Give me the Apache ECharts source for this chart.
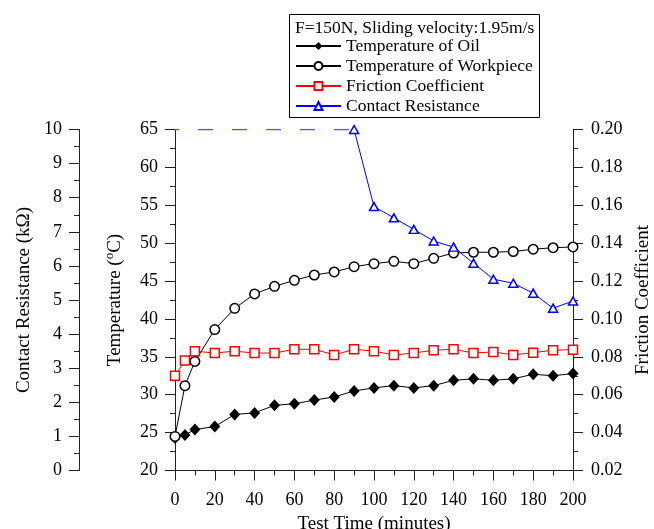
<!DOCTYPE html>
<html>
<head>
<meta charset="utf-8">
<script src="https://cdn.jsdelivr.net/npm/echarts@6/dist/echarts.min.js"></script>
<style>
  html, body { margin: 0; padding: 0; background: #fff; }
  #chart { width: 654px; height: 529px; }
</style>
</head>
<body>
<div id="chart"></div>
<script>
// test time (minutes)
const testTime = [0, 5, 10, 20, 30, 40, 50, 60, 70, 80, 90, 100, 110, 120, 130, 140, 150, 160, 170, 180, 190, 200];
const oilTemp = [24.3, 24.7, 25.4, 25.8, 27.4, 27.6, 28.6, 28.8, 29.3, 29.7, 30.5, 30.9, 31.2, 30.9, 31.2, 31.9, 32.1, 31.9, 32.1, 32.7, 32.5, 32.8];
const workTemp = [24.5, 31.2, 34.4, 38.6, 41.4, 43.3, 44.3, 45.1, 45.8, 46.2, 46.9, 47.3, 47.6, 47.3, 48.0, 48.7, 48.8, 48.8, 48.9, 49.2, 49.4, 49.5];
const friction = [0.070, 0.078, 0.083, 0.082, 0.083, 0.082, 0.082, 0.084, 0.084, 0.081, 0.084, 0.083, 0.081, 0.082, 0.0835, 0.084, 0.082, 0.0826, 0.081, 0.0822, 0.0835, 0.0838];
const crTime = [90, 100, 110, 120, 130, 140, 150, 160, 170, 180, 190, 200];
const contactRes = [10, 7.74, 7.41, 7.07, 6.73, 6.55, 6.08, 5.61, 5.49, 5.20, 4.76, 4.97];
// off-scale part of contact resistance (dashed at top)
const crOffTime = [0, 90];
const crOffVal = [10, 10];

const FONT = "'Liberation Serif', 'Times New Roman', serif";
const axisColor = '#222';

const pairs = (xs, ys) => xs.map((x, i) => [x, ys[i]]);

const chart = echarts.init(document.getElementById('chart'));

const baseY = {
    type: 'value',
    nameLocation: 'middle',
    nameRotate: 90,
    nameTextStyle: { fontFamily: FONT, fontSize: 19, color: '#000' },
    axisLine: { show: true, lineStyle: { color: axisColor, width: 1 } },
    axisTick: { show: true, length: 10, lineStyle: { color: axisColor } },
    minorTick: { show: true, splitNumber: 2, length: 5, lineStyle: { color: axisColor } },
    splitLine: { show: false },
    axisLabel: { fontFamily: FONT, fontSize: 18, color: '#000', margin: 17 }
};

const option = {
    animation: false,
    backgroundColor: '#fff',
    grid: { left: 175, right: 81, top: 129.5, bottom: 58.5, containLabel: false, outerBoundsMode: 'none' },
    graphic: [
        {
            type: 'rect',
            shape: { x: 289.5, y: 14.5, width: 250, height: 103 },
            style: { fill: '#fff', stroke: '#000', lineWidth: 1 },
            z: -1
        },
        {
            type: 'text',
            style: {
                x: 295, y: 28,
                text: 'F=150N, Sliding velocity:1.95m/s',
                fontFamily: FONT, fontSize: 17.5, fill: '#000',
                verticalAlign: 'middle'
            }
        }
    ],
    legend: {
        orient: 'vertical',
        left: 295,
        top: 37,
        padding: 0,
        itemWidth: 45,
        itemHeight: 10,
        itemGap: 2,
        textStyle: { fontFamily: FONT, fontSize: 17.5, color: '#000', lineHeight: 18 },
        data: ['Temperature of Oil', 'Temperature of Workpiece', 'Friction Coefficient', 'Contact Resistance']
    },
    xAxis: {
        type: 'value',
        min: 0,
        max: 200,
        interval: 20,
        name: 'Test Time (minutes)',
        nameLocation: 'middle',
        nameGap: 44,
        nameTextStyle: { fontFamily: FONT, fontSize: 19, color: '#000' },
        axisLine: { onZero: false, lineStyle: { color: axisColor, width: 1 } },
        axisTick: { length: 10, lineStyle: { color: axisColor } },
        minorTick: { show: true, splitNumber: 2, length: 5, lineStyle: { color: axisColor } },
        splitLine: { show: false },
        axisLabel: { fontFamily: FONT, fontSize: 18, color: '#000', margin: 21 }
    },
    yAxis: [
        Object.assign({}, baseY, {
            min: 20, max: 65, interval: 5,
            position: 'left',
            name: '{a|Temperature (}{s|o}{a|C)}',
            nameGap: 50,
            nameTextStyle: {
                fontFamily: FONT, fontSize: 19, color: '#000',
                rich: {
                    a: { fontFamily: FONT, fontSize: 19, color: '#000', lineHeight: 22, verticalAlign: 'bottom' },
                    s: { fontFamily: FONT, fontSize: 13, color: '#000', lineHeight: 22, verticalAlign: 'top' }
                }
            }
        }),
        Object.assign({}, baseY, {
            min: 0, max: 10, interval: 1,
            position: 'left',
            offset: 96,
            name: 'Contact Resistance (k\u03A9)',
            nameGap: 44
        }),
        Object.assign({}, baseY, {
            min: 0.02, max: 0.20, interval: 0.02,
            position: 'right',
            name: 'Friction Coefficient',
            nameGap: 61,
            axisLabel: {
                fontFamily: FONT, fontSize: 18, color: '#000', margin: 18,
                formatter: v => v.toFixed(2)
            }
        })
    ],
    series: [
        {
            name: 'Temperature of Oil',
            type: 'line',
            yAxisIndex: 0,
            data: pairs(testTime, oilTemp),
            symbol: 'diamond',
            symbolSize: [11, 12],
            clip: false,
            lineStyle: { color: '#000', width: 1 },
            itemStyle: { color: '#000' }
        },
        {
            name: 'Temperature of Workpiece',
            type: 'line',
            yAxisIndex: 0,
            data: pairs(testTime, workTemp),
            symbol: 'circle',
            symbolSize: 9.5,
            clip: false,
            lineStyle: { color: '#000', width: 1 },
            itemStyle: { color: '#fff', borderColor: '#000', borderWidth: 1.5 }
        },
        {
            name: 'Friction Coefficient',
            type: 'line',
            yAxisIndex: 2,
            data: pairs(testTime, friction),
            symbol: 'rect',
            symbolSize: 9,
            clip: false,
            lineStyle: { color: '#ff0000', width: 1 },
            itemStyle: { color: '#fff', borderColor: '#ff0000', borderWidth: 1.5 }
        },
        {
            name: 'Contact Resistance',
            type: 'line',
            yAxisIndex: 1,
            data: pairs(crTime, contactRes),
            symbol: 'triangle',
            symbolSize: [9, 8],
            clip: false,
            lineStyle: { color: '#0000ff', width: 1 },
            itemStyle: { color: '#fff', borderColor: '#0000ff', borderWidth: 1.5 }
        },
        {
            name: 'CR off-scale',
            type: 'line',
            yAxisIndex: 1,
            data: pairs(crOffTime, crOffVal),
            symbol: 'none',
            lineStyle: { color: '#5555ff', width: 1.5, type: [15, 19], dashOffset: 11 },
            z: 1
        }
    ]
};

chart.setOption(option);
</script>
</body>
</html>
